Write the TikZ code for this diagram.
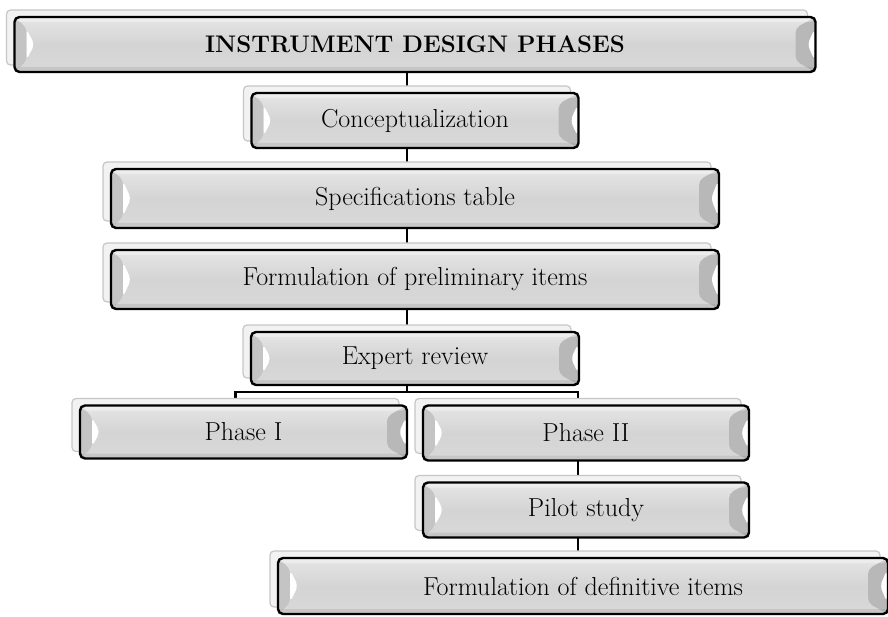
\documentclass[tikz,border=0pt]{standalone}
\usetikzlibrary{calc,positioning}
\definecolor{facegray}{RGB}{212,212,212}
\definecolor{edgegray}{RGB}{184,184,184}
\definecolor{leftgray}{RGB}{196,196,196}
\definecolor{shadowgray}{RGB}{242,242,242}
\tikzstyle{backbox}=[rectangle, rounded corners=4pt, fill=shadowgray, draw=gray!45, line width=1.2pt, inner sep=0pt]
\tikzstyle{frontbox}=[rectangle, rounded corners=5pt, top color=gray!20, bottom color=gray!30, middle color=facegray, draw=black, line width=2.4pt, inner sep=0pt, font=\fontsize{26}{30}\selectfont,
  path picture={
    \path (path picture bounding box.north west) coordinate (nw) (path picture bounding box.south east) coordinate (se);
    % left bevel
    \fill[leftgray] (nw) -- ++(12,11) -- ($(nw|-se)+(12,-11)$) -- (nw|-se) -- cycle;
    \fill[white] ($(nw)+(12,12)$) -- ($(nw)!0.5!(nw|-se)+(20,0)$) -- ($(nw|-se)+(12,-12)$) -- cycle;
    % right bevel
    \fill[edgegray] (se|-nw) -- ++(-20,11) -- ($(se)+(-20,-11)$) -- (se) -- cycle;
    \fill[white] ($(se|-nw)+(-1,12)$) -- ($(se|-nw)!0.5!(se)+(-8,0)$) -- ($(se)+(-1,-12)$) -- cycle;
    % top and bottom rims
    \fill[white, opacity=0.35] (nw) rectangle ($(se|-nw)+(0,5)$);
    \fill[gray, opacity=0.2] ($(nw|-se)+(0,-5)$) rectangle (se);
  }]
\tikzstyle{link}=[line width=2.2pt, draw=black]
\newcommand{\phasebox}[6]
{
  \node[backbox, minimum width=#4pt, minimum height=#5pt](#1) at (#2,#3){};
  \node[frontbox, minimum width=#4pt, minimum height=#5pt](#1f) at ($(#1)+(8,7)$){#6};
}

\begin{document}
\begin{tikzpicture}[x=1pt, y=-1pt]
	\useasboundingbox (0,0) rectangle (888,617);

	% connectors go first, the boxes hide their ends
	\coordinate (title) at (407,37.5);
	\coordinate (concept) at (407,113.5);
	\coordinate (specs) at (407,191.5);
	\coordinate (prelim) at (407,272.5);
	\coordinate (expert) at (407,351.5);
	\coordinate (split) at (407,392);
	\coordinate (phaseone) at (235.5,425);
	\coordinate (phasetwo) at (578,426);
	\coordinate (pilot) at (578,503);
	\coordinate (defin) at (575,579);

	\draw[link] (title) -- (concept) -- (specs) -- (prelim) -- (expert) -- (split);
	\draw[link] (phaseone) |- (split) -| (phasetwo);
	\draw[link] (phasetwo) -- (pilot) -- (pilot |- defin);

	\phasebox{title}{407}{37.5}{801}{55}{\fontsize{24}{28}\selectfont\bfseries INSTRUMENT DESIGN PHASES}
	\phasebox{concept}{407}{113.5}{327}{55}{Conceptualization}
	\phasebox{specs}{407}{191.5}{608}{59}{Specifications table}
	\phasebox{prelim}{407}{272.5}{608}{59}{Formulation of preliminary items}
	\phasebox{expert}{407}{351.5}{328}{53}{Expert review}
	\phasebox{phaseone}{235.5}{425}{327}{53}{Phase I}
	\phasebox{phasetwo}{578}{426}{326}{55}{Phase II}
	\phasebox{pilot}{578}{503}{326}{55}{Pilot study}
	\phasebox{defin}{575}{579}{610}{56}{Formulation of definitive items}

\end{tikzpicture}
\end{document}
